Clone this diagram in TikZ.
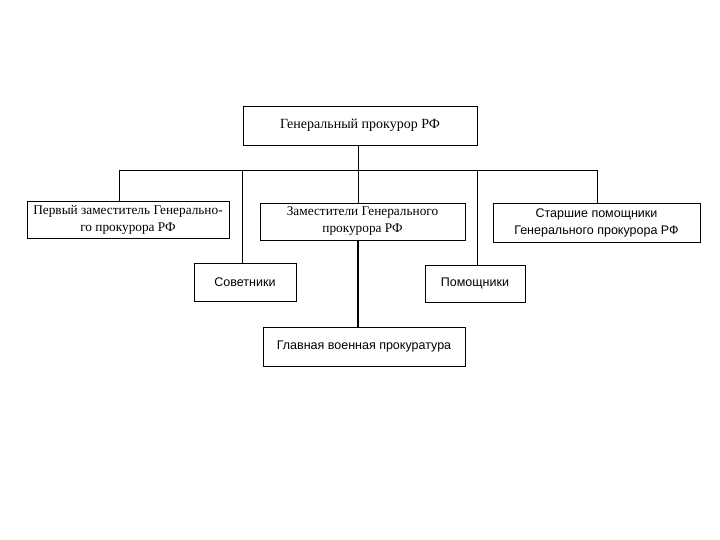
\documentclass[tikz,border=0pt]{standalone}
\usepackage{fontspec}
\setmainfont{Liberation Serif}
\newfontfamily\boxsans{Liberation Sans}
\usetikzlibrary{positioning}

\begin{document}
\begin{tikzpicture}[x=1pt, y=-1pt,
    box/.style={draw, line width=0.9pt, inner sep=0pt, align=center,
      font=\fontsize{13.3}{17}\selectfont},
    sbox/.style={box, font=\boxsans\fontsize{12.5}{17}\selectfont},
    link/.style={line width=0.7pt}]

  \useasboundingbox (0,0) rectangle (720,540);

  % --- head ---
  \node[box, minimum width=234pt, minimum height=39pt,
    font=\fontsize{14}{17}\selectfont] (gen) at (360,125.5)
    {\raisebox{4pt}{Генеральный прокурор РФ}};

  % --- first row ---
  \node[box, minimum width=202pt, minimum height=37pt] (first) at (128,219.5)
    {Первый заместитель Генерально-\\го прокурора РФ};
  \node[box, minimum width=205pt, minimum height=37pt] (deputies) at (362.5,221.5)
    {Заместители Генерального\\прокурора РФ};
  \node[sbox, minimum width=207pt, minimum height=39pt] (senior) at (596.5,222.5)
    {Старшие помощники\\Генерального прокурора РФ};

  % --- second row ---
  \node[sbox, minimum width=102pt, minimum height=38pt] (advisers) at (245,282)
    {Советники};
  \node[sbox, minimum width=100pt, minimum height=37pt] (assistants) at (475,283.5)
    {Помощники};
  \node[sbox, minimum width=202pt, minimum height=39pt] (gvp) at (364,346.5)
    {Главная военная прокуратура};

  % --- connectors ---
  \coordinate (busL) at (119,170);
  \coordinate (busR) at (597,170);
  \draw[link] (busL) -- (busR);
  \draw[link] (gen.south -| 358,0) -- (358,0 |- deputies.north);
  \draw[link, line width=1.2pt] (358,0 |- deputies.south) -- (358,0 |- gvp.north);
  \draw[link] (busL) -- (busL |- first.north);
  \draw[link] (242,170) -- (242,0 |- advisers.north);
  \draw[link] (477,170) -- (477,0 |- assistants.north);
  \draw[link] (busR) -- (busR |- senior.north);

\end{tikzpicture}
\end{document}
